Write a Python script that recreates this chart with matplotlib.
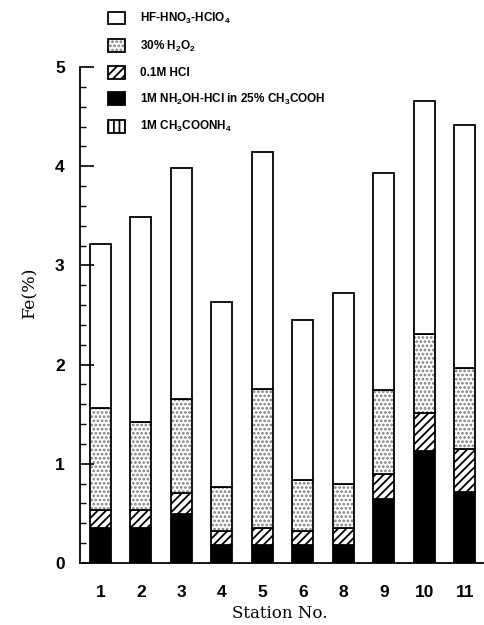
import numpy as np
import matplotlib
matplotlib.use("Agg")
import matplotlib.pyplot as plt

# Fe fractions per station (Fe %)
stations = ["1", "2", "3", "4", "5", "6", "8", "9", "10", "11"]
ch3coonh4 = [0.01, 0.01, 0.01, 0.01, 0.01, 0.01, 0.01, 0.01, 0.01, 0.01]
nh2oh = [0.34, 0.34, 0.48, 0.17, 0.17, 0.17, 0.17, 0.64, 1.12, 0.71]
hcl = [0.18, 0.18, 0.22, 0.14, 0.17, 0.14, 0.17, 0.25, 0.38, 0.43]
h2o2 = [1.03, 0.89, 0.94, 0.45, 1.40, 0.52, 0.45, 0.84, 0.80, 0.82]
hf = [1.66, 2.07, 2.33, 1.86, 2.39, 1.61, 1.92, 2.19, 2.35, 2.45]

labels = [
    r"HF-HNO$_3$-HClO$_4$",
    r"30% H$_2$O$_2$",
    "0.1M HCl",
    r"1M NH$_2$OH-HCl in 25% CH$_3$COOH",
    r"1M CH$_3$COONH$_4$",
]

plt.rcParams["mathtext.default"] = "regular"
plt.rcParams["hatch.linewidth"] = 1.3

fig = plt.figure(figsize=(4.84, 6.25), dpi=100)
ax = fig.add_axes([80 / 484, 62 / 625, 403 / 484, 496 / 625])

x = np.arange(len(stations))
w = 0.52
edge = dict(edgecolor="black", linewidth=1.3)

bottom = np.zeros(len(stations))
b_ac = ax.bar(x, ch3coonh4, w, bottom=bottom, facecolor="white", hatch="|||", **edge)
bottom += ch3coonh4
b_nh = ax.bar(x, nh2oh, w, bottom=bottom, facecolor="black", **edge)
bottom += nh2oh
b_hcl = ax.bar(x, hcl, w, bottom=bottom, facecolor="white", hatch="////", **edge)
bottom += hcl
# stipple drawn in grey underneath, black outline on top
b_h2s = ax.bar(x, h2o2, w, bottom=bottom, facecolor="white", hatch="....",
               edgecolor="#7a7a7a", linewidth=0)
b_h2 = ax.bar(x, h2o2, w, bottom=bottom, facecolor="none", **edge)
bottom += h2o2
b_hf = ax.bar(x, hf, w, bottom=bottom, facecolor="white", **edge)

ax.set_xlim(-0.5, 9.45)
ax.set_ylim(0, 5)
ax.spines["top"].set_visible(False)
ax.spines["right"].set_visible(False)
ax.spines["left"].set_linewidth(1.3)
ax.spines["bottom"].set_linewidth(1.3)

ax.set_yticks(range(6))
ax.set_yticks(np.arange(0, 5.01, 0.2), minor=True)
ax.tick_params(axis="y", which="major", direction="in", length=10, width=1.2, pad=11)
ax.tick_params(axis="y", which="minor", direction="in", length=4, width=1.0)
ax.set_xticks(x)
ax.set_xticklabels(stations)
ax.tick_params(axis="x", length=0, pad=16)
for t in ax.get_xticklabels() + ax.get_yticklabels():
    t.set_fontfamily("Liberation Sans")
    t.set_fontweight("bold")
    t.set_fontsize(12.5)

fig.text(280 / 484, 1 - 614 / 625, "Station No.", family="DejaVu Serif",
         fontsize=12, ha="center", va="center")
fig.text(30 / 484, 1 - 292 / 625, "Fe(%)", family="DejaVu Serif",
         fontsize=12.5, rotation=90, ha="center", va="center")

leg = fig.legend([b_hf, (b_h2s, b_h2), b_hcl, b_nh, b_ac], labels,
                 loc="upper left", bbox_to_anchor=(108 / 484, 1 - 11 / 625),
                 frameon=False, borderpad=0, borderaxespad=0,
                 handlelength=1.4, handleheight=1.3, handletextpad=1.3,
                 labelspacing=1.05,
                 prop={"family": "Liberation Sans", "size": 8.5, "weight": "bold"})

fig.savefig("out.png", dpi=100)
